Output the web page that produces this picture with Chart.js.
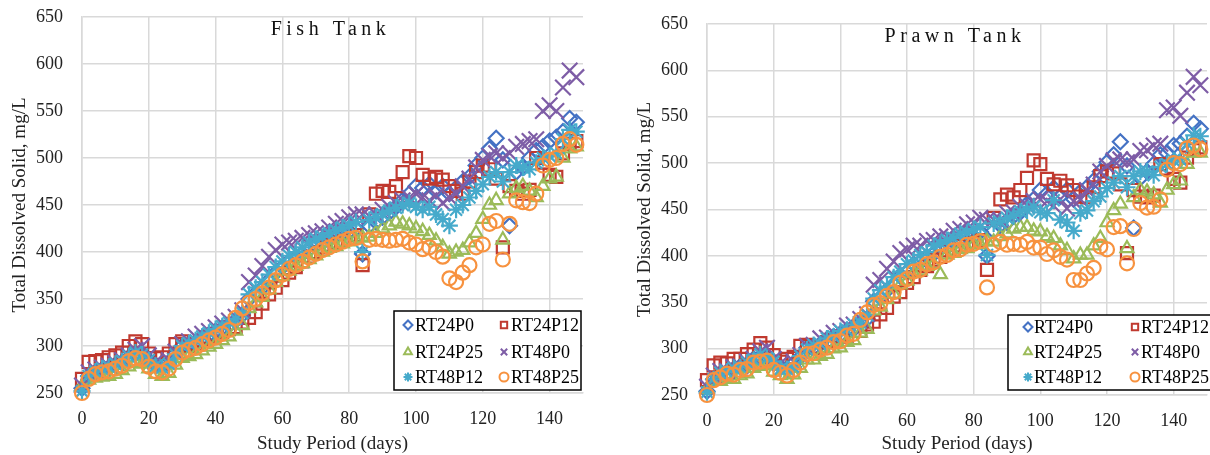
<!DOCTYPE html>
<html>
<head>
<meta charset="utf-8">
<script src="https://cdn.jsdelivr.net/npm/chart.js@4.4.1/dist/chart.umd.min.js"></script>
<style>
html,body{margin:0;padding:0;background:#fff;overflow:hidden;width:1210px;height:455px}
.box{position:absolute;top:0;width:600px;height:455px}
#fishBox{left:0}
#prawnBox{left:625px}
</style>
</head>
<body>
<div class="box" id="fishBox"><canvas id="fishChart" width="600" height="455"></canvas></div>
<div class="box" id="prawnBox"><canvas id="prawnChart" width="600" height="455"></canvas></div>
<script>
// sampling days (study period)
const days=[0,2,4,6,8,10,12,14,16,18,20,22,24,26,28,30,32,34,36,38,
  40,42,44,46,48,50,52,54,56,58,60,62,64,66,68,70,72,74,76,78,
  80,82,84,86,88,90,92,94,96,98,100,102,104,106,108,110,112,114,116,118,
  120,122,124,126,128,130,132,134,136,138,140,142,144,146,148];

const seriesNames=["RT24P0","RT24P12","RT24P25","RT48P0","RT48P12","RT48P25"];

const yMin=250,yMax=650,yStep=25;
const xMin=0,xMax=150,xStep=20;

/* ======================
   FISH TANK
====================== */
const fishRT24P0=[255,268,272,275,277,280,283,288,292,290,285,280,279,283,292,300,302,304,308,312,
  316,319,322,327,333,350,356,362,370,378,384,390,394,398,403,407,410,414,417,420,
  422,425,398,428,432,437,442,448,455,462,470,468,472,465,470,462,468,475,480,492,
  500,510,521,498,428,485,490,500,508,512,518,522,528,542,538];
const fishRT24P12=[265,283,284,285,288,290,293,300,305,302,292,287,288,292,302,305,300,302,306,310,
  312,315,318,320,325,330,336,345,355,362,370,378,384,390,395,400,405,407,410,412,
  414,418,386,440,462,465,464,470,485,502,500,482,478,480,477,470,465,462,475,485,
  492,488,478,405,470,465,462,466,500,495,482,480,505,515,518];
const fishRT24P25=[257,264,266,267,268,270,274,278,282,281,276,270,268,271,280,287,289,291,295,299,
  302,306,310,316,322,340,346,352,360,368,374,380,385,388,392,396,400,404,406,409,
  411,413,415,416,420,425,428,432,430,428,425,422,418,412,405,398,400,402,410,420,
  435,450,455,413,462,468,470,465,458,470,478,480,500,510,512];
const fishRT48P0=[258,272,275,277,279,282,285,290,296,300,290,283,280,285,294,302,305,310,313,316,
  320,324,327,331,338,368,375,385,395,402,408,410,412,415,418,420,422,426,430,433,
  437,440,440,438,440,445,448,452,455,458,462,458,455,460,452,458,462,470,478,490,
  498,502,505,500,505,512,515,518,520,550,556,550,575,593,586];
const fishRT48P12=[252,268,273,276,278,281,284,289,293,291,285,279,277,281,291,300,303,306,310,314,
  318,321,325,329,335,355,362,368,376,384,390,396,400,405,410,414,416,420,423,426,
  428,432,400,434,437,440,444,447,450,452,448,445,448,440,435,428,445,450,458,465,
  472,480,485,475,485,492,490,488,495,500,502,505,520,530,528];
const fishRT48P25=[250,265,270,272,273,276,279,284,287,286,278,273,272,276,286,293,296,298,302,306,
  309,313,317,330,340,346,350,356,362,370,376,382,386,390,394,398,402,405,408,411,
  414,415,390,413,414,413,412,413,414,410,408,403,405,400,395,372,368,378,386,405,
  408,430,433,392,430,455,453,452,462,492,498,500,515,520,514];

/* ======================
   PRAWN TANK
====================== */
const prawnRT24P0=[254,267,273,274,278,281,282,289,291,291,284,281,278,284,291,301,301,305,307,313,
  315,320,321,328,332,351,355,363,369,379,383,391,393,399,402,408,409,415,416,421,
  421,426,400,427,433,436,443,447,456,461,471,467,473,464,471,461,469,474,481,491,
  501,509,523,497,430,484,491,499,509,511,519,521,529,543,537];
const prawnRT24P12=[266,282,285,284,289,289,294,299,306,301,293,286,289,291,303,304,301,301,307,309,
  313,314,319,319,326,329,337,344,356,361,371,377,385,389,396,399,406,406,411,411,
  415,417,385,441,461,466,463,471,484,503,499,483,477,481,476,471,464,463,474,486,
  491,489,477,403,471,464,463,465,499,494,483,479,506,514,517];
const prawnRT24P25=[256,265,265,268,267,271,273,279,281,282,275,271,267,272,279,288,288,292,294,300,
  301,307,309,317,321,341,345,353,359,369,373,381,384,389,391,380,401,403,407,408,
  412,412,416,415,421,424,429,431,431,427,426,421,419,411,406,397,401,401,411,419,
  436,449,456,408,463,471,469,466,457,471,477,481,499,511,511];
const prawnRT48P0=[259,271,276,276,280,281,286,289,297,301,289,284,279,286,293,303,304,311,312,317,
  319,325,326,332,337,369,374,386,394,403,407,411,411,416,417,421,421,427,429,434,
  436,441,439,439,439,446,447,453,454,459,461,459,454,461,451,459,461,471,477,491,
  497,503,504,501,504,513,514,519,521,557,560,551,576,593,584];
const prawnRT48P12=[253,267,274,275,279,280,285,288,294,290,286,278,278,280,292,299,304,305,311,313,
  319,320,326,328,336,354,363,367,377,383,391,395,401,404,411,413,417,419,424,425,
  429,431,401,435,436,441,443,448,449,453,447,446,460,439,436,427,446,449,459,464,
  473,479,486,474,486,491,491,487,496,499,503,504,521,530,529];
const prawnRT48P25=[250,266,269,273,272,277,278,285,286,287,277,274,271,277,285,294,295,299,301,307,
  308,314,316,331,339,347,349,357,361,371,375,383,385,391,393,399,401,406,407,412,
  413,416,366,412,415,412,413,412,415,409,409,402,406,399,396,374,374,381,387,410,
  407,431,432,392,429,457,452,453,461,493,500,499,516,519,515];

const seriesColors=["#4472C4","#C0392F","#9BBB59","#7E5DA6","#46AACB","#F7923F"];
const markers=[
  {style:"rectRot",r:7.5},
  {style:"rect",r:8.5},
  {style:"triangle",r:7.5},
  {style:"crossRot",r:11},
  {style:"star",r:8.5},
  {style:"circle",r:7}
];
const serif="Liberation Serif";

function toPoints(vals){
  return days.map((d,i)=>({x:d,y:vals[i]}));
}

// title + boxed legend drawn inside the plot area
const insideDecor={
  id:"insideDecor",
  afterDraw(chart,args,opts){
    const {ctx,chartArea:a}=chart;
    ctx.save();
    ctx.font='20px "'+serif+'"';
    ctx.letterSpacing="4.5px";
    ctx.fillStyle="#111";
    ctx.textAlign="center";
    ctx.textBaseline="alphabetic";
    ctx.fillText(opts.title,(a.left+a.right)/2-2,a.top+opts.titleY);
    ctx.letterSpacing="0px";

    const L=opts.legend;
    const bx=a.left+L.x,by=a.top+L.y;
    ctx.fillStyle="#fff";
    ctx.fillRect(bx,by,L.w,L.h);
    ctx.lineWidth=1.5;
    ctx.strokeStyle="#000";
    ctx.strokeRect(bx,by,L.w,L.h);
    ctx.font='18px "'+serif+'"';
    ctx.textAlign="left";
    ctx.textBaseline="middle";
    seriesNames.forEach((name,i)=>{
      const col=i%2,row=Math.floor(i/2);
      const mx=bx+(col?L.m2:L.m1),ty=by+L.rows[row];
      ctx.strokeStyle=seriesColors[i];
      ctx.fillStyle="rgba(0,0,0,0)";
      ctx.lineWidth=2;
      Chart.helpers.drawPoint(ctx,{pointStyle:markers[i].style,radius:4.5,borderWidth:2,rotation:0},mx,ty);
      ctx.fillStyle="#000";
      ctx.fillText(name,mx+L.gap,ty+1);
    });
    ctx.restore();
  }
};

function makeChart(id,title,vals,pad,xH,legendBox){
  new Chart(document.getElementById(id),{
    type:"scatter",
    data:{
      datasets:seriesNames.map((n,i)=>({
        label:n,
        data:toPoints(vals[i]),
        pointStyle:markers[i].style,
        pointRadius:markers[i].r,
        pointHoverRadius:markers[i].r,
        pointBorderWidth:2.2,
        borderColor:seriesColors[i],
        backgroundColor:"rgba(0,0,0,0)",
        order:5-i,
        clip:false
      }))
    },
    options:{
      responsive:false,
      animation:false,
      events:[],
      layout:{padding:pad},
      plugins:{
        legend:{display:false},
        tooltip:{enabled:false},
        insideDecor:{title:title,titleY:18,legend:legendBox}
      },
      scales:{
        x:{
          type:"linear",min:xMin,max:xMax,
          ticks:{stepSize:xStep,includeBounds:false,padding:15,color:"#222",font:{family:serif,size:18}},
          grid:{color:"#d9d9d9",lineWidth:1.5,drawTicks:false},
          border:{color:"#d9d9d9",width:1.5},
          title:{display:true,text:"Study Period (days)",color:"#222",font:{family:serif,size:19},padding:{top:1,bottom:0}},
          afterFit(s){s.height=xH;}
        },
        y:{
          type:"linear",min:yMin,max:yMax,
          ticks:{stepSize:yStep,padding:19,color:"#222",font:{family:serif,size:18}},
          grid:{color:"#d9d9d9",lineWidth:1.5,drawTicks:false},
          border:{color:"#d9d9d9",width:1.5},
          title:{display:true,text:"Total Dissolved Solid, mg/L",color:"#222",font:{family:serif,size:19},padding:{top:9,bottom:0}},
          afterFit(s){s.width=82;s.paddingTop=0;s.paddingBottom=0;}
        }
      }
    },
    plugins:[insideDecor]
  });
}

makeChart("fishChart","Fish Tank",
  [fishRT24P0,fishRT24P12,fishRT24P25,fishRT48P0,fishRT48P12,fishRT48P25],
  {top:17,right:17,left:0,bottom:0},62,
  {x:312,y:294,w:187,h:79,m1:14,m2:110,gap:7,rows:[14,41,66]});

makeChart("prawnChart","Prawn Tank",
  [prawnRT24P0,prawnRT24P12,prawnRT24P25,prawnRT48P0,prawnRT48P12,prawnRT48P25],
  {top:24,right:18,left:0,bottom:0},60,
  {x:301,y:291,w:210,h:75,m1:20,m2:127,gap:6,rows:[12,37,62]});
</script>
</body>
</html>
